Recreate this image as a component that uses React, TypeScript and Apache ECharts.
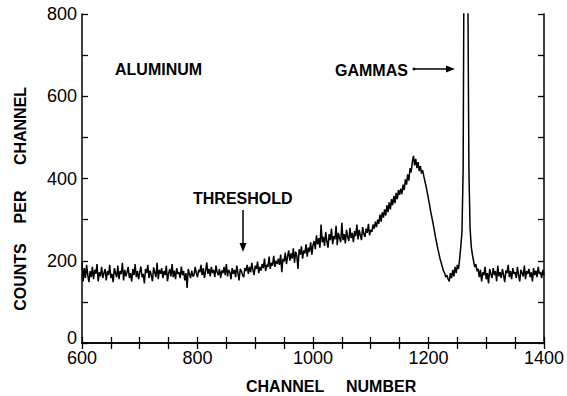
import React, { useEffect, useRef } from "react";
import * as echarts from "echarts";

// Spectrum sampled every 2 channels, starting at channel 600
const START_CHANNEL = 600;
const CHANNEL_STEP = 2;
const counts: number[] = [
  // 600 - 878
  198, 150, 182, 158, 190, 165, 148, 175, 160, 185,
  155, 178, 168, 192, 150, 172, 162, 185, 158, 170,
  180, 152, 175, 165, 190, 158, 168, 148, 182, 170,
  160, 188, 155, 175, 168, 195, 152, 178, 162, 172,
  185, 158, 170, 150, 180, 165, 192, 160, 175, 155,
  172, 186, 160, 168, 145, 180, 170, 190, 158, 176,
  165, 150, 184, 172, 160, 195, 155, 178, 168, 182,
  158, 175, 165, 188, 150, 170, 180, 162, 192, 160,
  176, 155, 182, 168, 172, 158, 186, 165, 175, 152,
  170, 134, 180, 168, 158, 176, 162, 165, 185, 170,
  160, 178, 172, 190, 165, 182, 158, 175, 196, 168,
  180, 162, 185, 170, 178, 160, 188, 172, 165, 180,
  158, 176, 170, 185, 165, 192, 162, 178, 172, 155,
  182, 168, 178, 160, 188, 170, 152, 180, 175, 165,
  // 880 - 940
  160, 182, 175, 190, 168, 185, 172, 195, 178, 165, 188, 180, 198, 170, 185, 176,
  192, 182, 205, 175, 190, 185, 210, 180, 195, 188, 212, 185, 200, 192, 205,
  // 942 - 1000
  190, 215, 172, 205, 198, 220, 192, 210, 225, 200, 218, 205, 230, 195, 222,
  212, 180, 228, 215, 235, 205, 225, 218, 240, 210, 232, 222, 245, 215, 238,
  // 1002 - 1100
  248, 228, 262, 240, 255, 232, 288, 245, 258, 236, 270, 248, 232, 265, 250, 278,
  240, 260, 252, 285, 238, 268, 255, 245, 292, 250, 265, 242, 275, 258, 248, 280,
  255, 268, 245, 272, 260, 288, 252, 275, 262, 250, 282, 265, 258, 278, 268, 290,
  262, 275,
  // 1102 - 1150
  270, 288, 278, 295, 282, 300, 290, 312, 295, 318, 305, 325, 310, 335, 318, 342,
  325, 350, 335, 358, 340, 365, 350, 372, 360,
  // 1152 - 1190
  375, 362, 385, 372, 398, 385, 410, 395, 425, 415, 440, 455, 432, 448, 425, 440,
  418, 430, 412, 420,
  // 1192 - 1234
  405, 392, 380, 365, 350, 335, 318, 305, 290, 275, 258, 245, 230, 218, 205, 195,
  185, 175, 170, 160, 165, 155,
  // 1236 - 1254
  150, 170, 158, 178, 162, 185, 170, 190, 180, 205,
  // 1256 - 1274 (gamma peak)
  235, 270, 420, 1100, 2200, 2000, 900, 420, 280, 235,
  // 1276 - 1286
  215, 200, 185, 192, 175, 180,
  // 1288 - 1400
  160, 178, 150, 172, 165, 185, 155, 170, 145, 180,
  168, 158, 182, 165, 175, 150, 188, 162, 172, 158,
  180, 165, 148, 176, 170, 190, 160, 175, 155, 182,
  168, 172, 158, 185, 165, 150, 178, 170, 162, 188,
  155, 175, 168, 180, 160, 172, 150, 182, 165, 176,
  160, 185, 168, 172, 158, 178, 165,
];

const X_MIN = 600;
const X_MAX = 1400;
const Y_MIN = 0;
const Y_MAX = 800;

const FONT = "'Liberation Sans', Arial, sans-serif";

export default function App() {
  const ref = useRef<HTMLDivElement>(null);
  useEffect(() => {
    if (!ref.current) return;
    const chart = echarts.init(ref.current, null, { renderer: "svg" });
    const data = counts.map((c, i) => [START_CHANNEL + i * CHANNEL_STEP, c]);
    const axisLine = { show: true, lineStyle: { color: "#000", width: 1.5 } };
    const axisTick = { show: true, inside: true, length: 6, lineStyle: { color: "#000", width: 1.3 } };
    const labelStyle = { color: "#000", fontSize: 18, fontFamily: FONT };
    const boldText = { fill: "#000", fontSize: 16, fontWeight: "bold", fontFamily: FONT };
    chart.setOption({
      animation: false,
      backgroundColor: "#fff",
      grid: { left: 82, right: 22, top: 14, bottom: 53 },
      xAxis: [
        {
          type: "value", min: X_MIN, max: X_MAX, interval: 50, position: "bottom",
          axisLine, axisTick, splitLine: { show: false },
          axisLabel: { ...labelStyle, margin: 6, formatter: (v: number) => (v % 200 === 0 ? String(v) : "") },
        },
        {
          type: "value", min: X_MIN, max: X_MAX, interval: 50, position: "top",
          axisLine, axisTick, splitLine: { show: false }, axisLabel: { show: false },
        },
      ],
      yAxis: [
        {
          type: "value", min: Y_MIN, max: Y_MAX, interval: 100, position: "left",
          axisLine, axisTick, splitLine: { show: false },
          axisLabel: {
            ...labelStyle,
            margin: 5,
            formatter: (v: number) => (v === 0 ? "{z|0}" : v % 200 === 0 ? String(v) : ""),
            rich: { z: { ...labelStyle, padding: [0, 0, 10, 0] } },
          },
        },
        {
          type: "value", min: Y_MIN, max: Y_MAX, interval: 100, position: "right",
          axisLine, axisTick, splitLine: { show: false }, axisLabel: { show: false },
        },
      ],
      series: [
        {
          type: "line",
          xAxisIndex: 0,
          yAxisIndex: 0,
          data,
          showSymbol: false,
          symbol: "none",
          clip: true,
          lineStyle: { color: "#000", width: 1.5 },
        },
      ],
      graphic: [
        { type: "text", x: 115, y: 69, style: { ...boldText, text: "ALUMINUM", verticalAlign: "middle" } },
        { type: "text", x: 335, y: 70, style: { ...boldText, text: "GAMMAS", verticalAlign: "middle" } },
        { type: "circle", shape: { cx: 414, cy: 69, r: 1.5 }, style: { fill: "#000" } },
        { type: "line", shape: { x1: 414, y1: 69, x2: 448, y2: 69 }, style: { stroke: "#000", lineWidth: 1.5 } },
        { type: "polygon", shape: { points: [[446, 65.5], [455, 69], [446, 72.5]] }, style: { fill: "#000" } },
        { type: "text", x: 193, y: 198, style: { ...boldText, text: "THRESHOLD", verticalAlign: "middle" } },
        { type: "line", shape: { x1: 243, y1: 210, x2: 243, y2: 246 }, style: { stroke: "#000", lineWidth: 1.5 } },
        { type: "polygon", shape: { points: [[239.5, 243], [243, 252], [246.5, 243]] }, style: { fill: "#000" } },
        { type: "text", x: 246, y: 386, style: { ...boldText, text: "CHANNEL", verticalAlign: "middle" } },
        { type: "text", x: 346, y: 386, style: { ...boldText, text: "NUMBER", verticalAlign: "middle" } },
        { type: "text", x: 20, y: 277, rotation: Math.PI / 2, style: { ...boldText, text: "COUNTS", align: "center", verticalAlign: "middle" } },
        { type: "text", x: 20, y: 207, rotation: Math.PI / 2, style: { ...boldText, text: "PER", align: "center", verticalAlign: "middle" } },
        { type: "text", x: 20, y: 126, rotation: Math.PI / 2, style: { ...boldText, text: "CHANNEL", align: "center", verticalAlign: "middle" } },
      ],
    });
    return () => chart.dispose();
  }, []);
  return (
    <div
      ref={ref}
      style={{ position: "fixed", left: 0, top: 0, width: 567, height: 396, background: "#fff" }}
    />
  );
}
